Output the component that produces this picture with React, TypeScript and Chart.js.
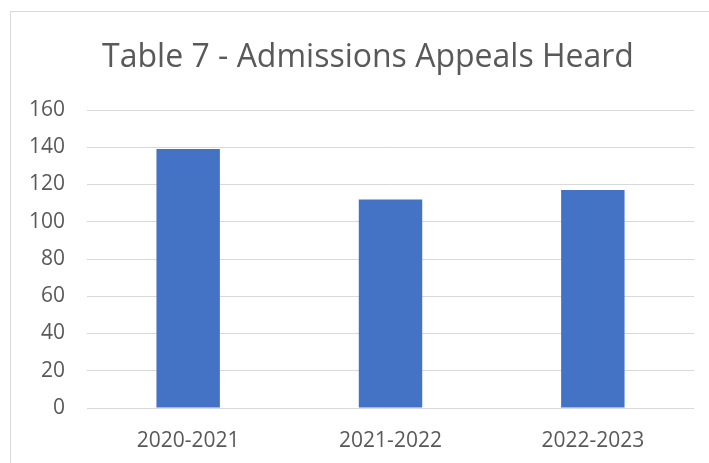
import React, { useEffect, useRef } from "react";
import { Chart, registerables } from "chart.js";

Chart.register(...registerables);

const TITLE = "Table 7 - Admissions Appeals Heard";
const categories = ["2020-2021", "2021-2022", "2022-2023"];
const appealsHeard = [139, 112, 117];
const yTickMin = 0;
const yTickMax = 160;
const yTickStep = 20;

const TEXT = "#595959";
const GRID = "#d9d9d9";
const BAR = "#4472C4";
const FONT = "'Open Sans', sans-serif";

const titlePlugin = {
  id: "chartTitle",
  afterDraw(chart: any) {
    const ctx = chart.ctx;
    ctx.save();
    ctx.fillStyle = TEXT;
    ctx.font = `normal 32px ${FONT}`;
    ctx.textAlign = "center";
    ctx.textBaseline = "alphabetic";
    ctx.fillText(TITLE, 368, 66.5);
    ctx.restore();
  },
};

export default function App() {
  const ref = useRef<HTMLCanvasElement | null>(null);

  useEffect(() => {
    if (!ref.current) return;
    const chart = new Chart(ref.current, {
      type: "bar",
      data: {
        labels: categories,
        datasets: [
          {
            label: TITLE,
            data: appealsHeard,
            backgroundColor: BAR,
            borderWidth: 0,
            categoryPercentage: 1,
            barPercentage: 0.3135,
          },
        ],
      },
      plugins: [titlePlugin],
      options: {
        animation: false,
        responsive: true,
        maintainAspectRatio: false,
        layout: { padding: { top: 110, right: 15, bottom: 0, left: 0 } },
        plugins: {
          legend: { display: false },
          tooltip: { enabled: false },
          title: { display: false },
        },
        scales: {
          x: {
            grid: { display: false, drawTicks: false },
            border: { display: false },
            ticks: {
              color: TEXT,
              font: { family: FONT, size: 21 },
              padding: 20,
              maxRotation: 0,
            },
            afterFit: (s: any) => {
              s.height = 55;
            },
          },
          y: {
            min: yTickMin,
            max: yTickMax,
            grid: { color: GRID, lineWidth: 1, drawTicks: false },
            border: { display: false },
            ticks: {
              stepSize: yTickStep,
              color: TEXT,
              font: { family: FONT, size: 21 },
              padding: 22,
            },
            afterFit: (s: any) => {
              s.width = 87;
            },
          },
        },
      },
    });
    return () => chart.destroy();
  }, []);

  return (
    <div
      style={{
        position: "fixed",
        left: 0,
        top: 0,
        width: 709,
        height: 463,
        background: "#ffffff",
        overflow: "hidden",
      }}
    >
      <div
        style={{
          position: "absolute",
          left: 10,
          top: 11,
          right: 0,
          bottom: 0,
          borderLeft: `1px solid ${GRID}`,
          borderTop: `1px solid ${GRID}`,
        }}
      />
      <canvas ref={ref} style={{ position: "absolute", left: 0, top: 0 }} />
    </div>
  );
}
